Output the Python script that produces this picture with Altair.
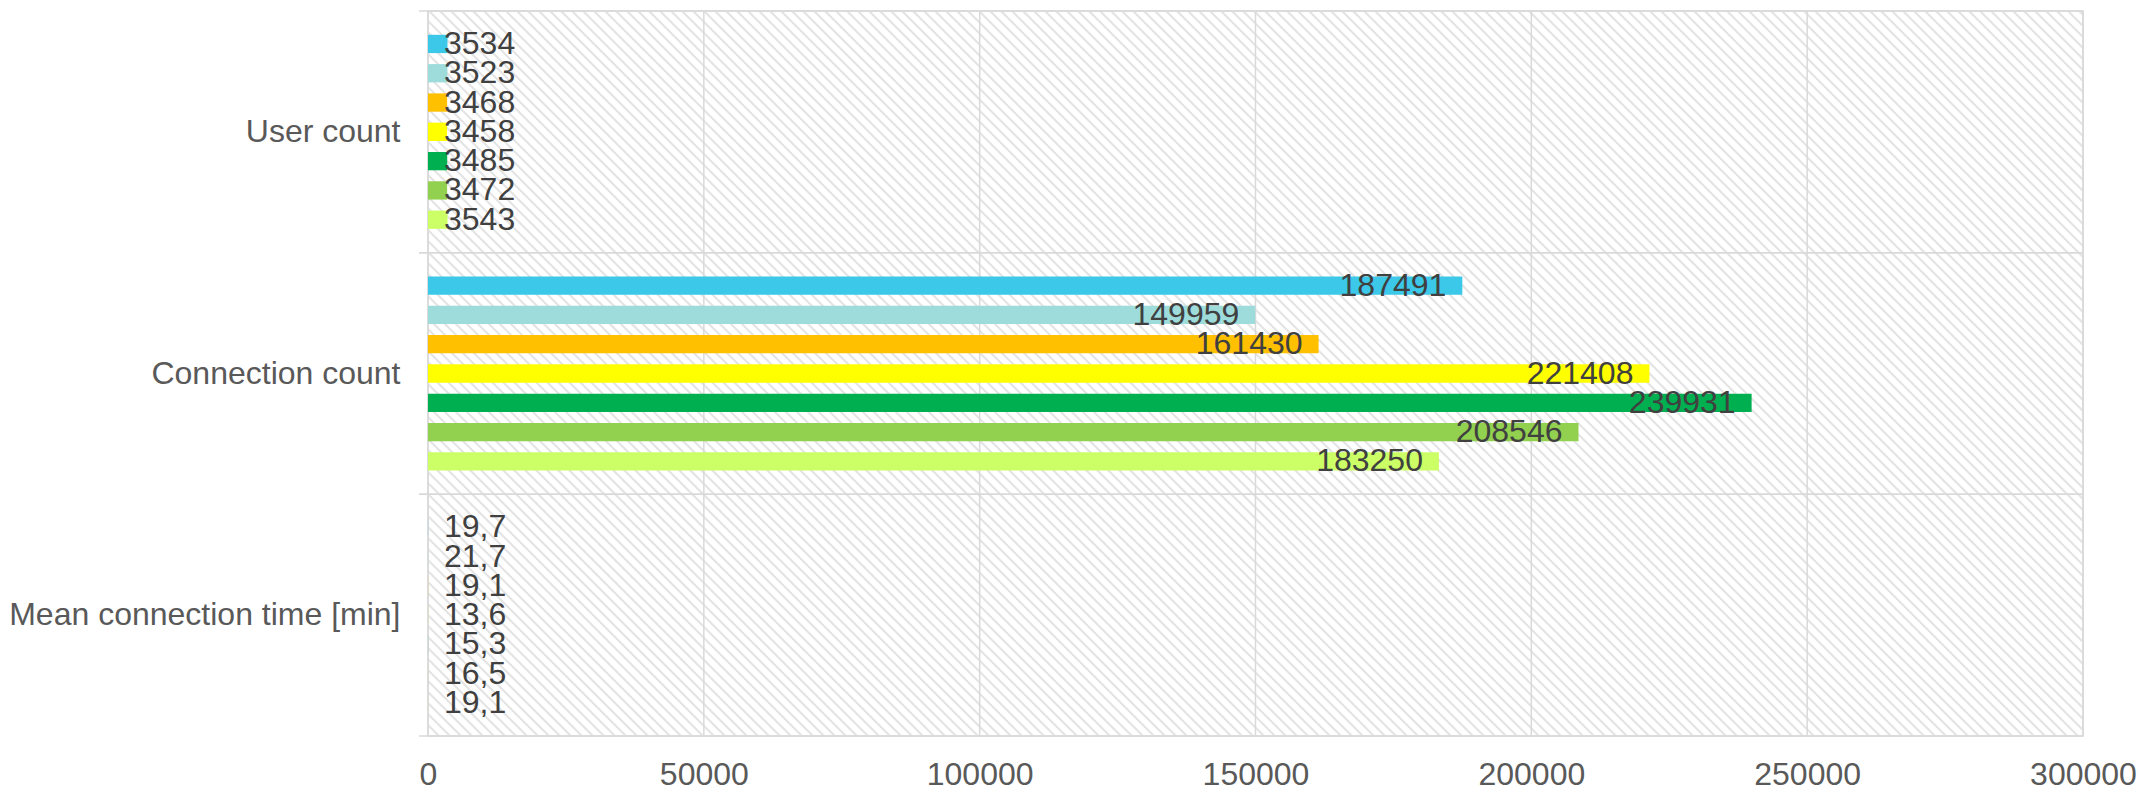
import altair as alt
import pandas as pd

categories = ["User count", "Connection count", "Mean connection time [min]"]
series = ["Series 1", "Series 2", "Series 3", "Series 4", "Series 5", "Series 6", "Series 7"]
colors = ["#3BC8E9", "#9DDCDB", "#FFC000", "#FFFF00", "#00B050", "#92D050", "#CCFF66"]
user_count = [3534, 3523, 3468, 3458, 3485, 3472, 3543]
connection_count = [187491, 149959, 161430, 221408, 239931, 208546, 183250]
mean_time = [19.7, 21.7, 19.1, 13.6, 15.3, 16.5, 19.1]
x_ticks = [0, 50000, 100000, 150000, 200000, 250000, 300000]

rows = []
for cat, vals in zip(categories, [user_count, connection_count, mean_time]):
    for s, v in zip(series, vals):
        rows.append({"category": cat, "series": s, "value": v})
df = pd.DataFrame(rows)
ticks_df = pd.DataFrame({"tick": x_ticks})
cat_df = pd.DataFrame({"category": categories})

W, H = 1655, 725
XMAX = 300000
P = 11  # hatch period in px
n_lines = int((W + H) / P) + 2

FONT = "Liberation Sans"
GRID = "#d9d9d9"
FS = 32

xscale = alt.Scale(domain=[0, XMAX], nice=False, zero=True)
yscale = alt.Scale(domain=categories, paddingInner=0, paddingOuter=0)
x_axis = alt.Axis(values=x_ticks, format="d", grid=False, domain=False, ticks=False,
                  labelFontSize=FS, labelColor="#595959", labelPadding=23,
                  labelFlush=False, labelFont=FONT, title=None)
y_axis = alt.Axis(grid=False, domain=False, ticks=False, labelFontSize=FS,
                  labelColor="#595959", labelPadding=28, labelFont=FONT,
                  labelLimit=600, title=None)

hatch = alt.Chart(alt.sequence(0, n_lines, as_="k")).transform_calculate(
    xa=f"(datum.k*{P} - {H}) * {XMAX} / {W}",
    xb=f"(datum.k*{P}) * {XMAX} / {W}",
).mark_rule(clip=True, color="#e4e4e4", strokeWidth=2.2).encode(
    x=alt.X("xa:Q", scale=xscale, axis=x_axis),
    x2="xb:Q",
    y=alt.value(0),
    y2=alt.value(H),
)

vgrid = alt.Chart(ticks_df).mark_rule(color=GRID, strokeWidth=1.5).encode(
    x=alt.X("tick:Q", scale=xscale, axis=x_axis)
)

hgrid_start = alt.Chart(cat_df).mark_rule(color=GRID, strokeWidth=1.5).encode(
    y=alt.Y("category:N", sort=categories, scale=yscale, axis=y_axis, bandPosition=0),
    x=alt.value(-9),
    x2=alt.value(W),
)
hgrid_end = alt.Chart(cat_df).mark_rule(color=GRID, strokeWidth=1.5).encode(
    y=alt.Y("category:N", sort=categories, scale=yscale, axis=y_axis, bandPosition=1),
    x=alt.value(-9),
    x2=alt.value(W),
)

color_enc = alt.Color("series:N", sort=series,
                      scale=alt.Scale(domain=series, range=colors), legend=None)
yoff = alt.YOffset("series:N", sort=series,
                   scale=alt.Scale(domain=series, paddingInner=0.375, paddingOuter=0.8125))

bars = alt.Chart(df).mark_bar().encode(
    x=alt.X("value:Q", scale=xscale, axis=x_axis),
    y=alt.Y("category:N", sort=categories, scale=yscale, axis=y_axis),
    yOffset=yoff,
    color=color_enc,
)

labeled = alt.Chart(df).transform_calculate(
    label="datum.category == 'Mean connection time [min]' ? replace(format(datum.value, '.1f'), '.', ',') : format(datum.value, 'd')"
)

labels_in = labeled.transform_filter(
    alt.datum.category == "Connection count"
).mark_text(align="right", baseline="middle", dx=-16, fontSize=FS, font=FONT,
            color="#404040").encode(
    x=alt.X("value:Q", scale=xscale, axis=x_axis),
    y=alt.Y("category:N", sort=categories, scale=yscale, axis=y_axis),
    yOffset=yoff,
    text="label:N",
)

labels_left = labeled.transform_filter(
    alt.datum.category != "Connection count"
).mark_text(align="left", baseline="middle", fontSize=FS, font=FONT,
            color="#404040").encode(
    x=alt.value(16),
    y=alt.Y("category:N", sort=categories, scale=yscale, axis=y_axis),
    yOffset=yoff,
    text="label:N",
)

chart = alt.layer(hatch, vgrid, hgrid_start, hgrid_end, bars, labels_in, labels_left).properties(
    width=W,
    height=H,
    autosize=alt.AutoSizeParams(type="none"),
    padding={"left": 428, "top": 11, "right": 58, "bottom": 55},
    background="white",
).configure_view(
    stroke=GRID, strokeWidth=1.5
)

chart.save("out.html", embed_options={"renderer": "svg", "actions": False})
